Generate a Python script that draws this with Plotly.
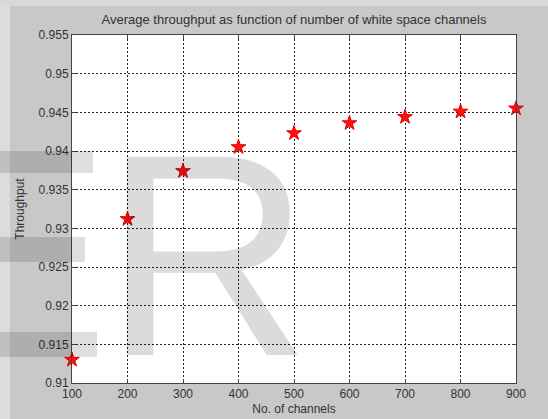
import plotly.graph_objects as go

channels = [100, 200, 300, 400, 500, 600, 700, 800, 900]
throughput = [0.9130, 0.9312, 0.9374, 0.9405, 0.9423, 0.9436, 0.9444, 0.9451, 0.9455]
y_ticks = [0.91, 0.915, 0.92, 0.925, 0.93, 0.935, 0.94, 0.945, 0.95, 0.955]
y_tick_labels = ["0.91", "0.915", "0.92", "0.925", "0.93", "0.935", "0.94", "0.945", "0.95", "0.955"]
x_ticks = [100, 200, 300, 400, 500, 600, 700, 800, 900]

W, H = 548, 419
L, R, T, B = 72, 32, 35, 36
PW, PH = W - L - R, H - T - B


def px(xp):
    return (xp - L) / PW


def py(yp):
    return (H - B - yp) / PH


fig = go.Figure()
fig.add_trace(go.Scatter(
    x=channels, y=throughput, mode="markers",
    marker=dict(symbol="star", size=11, color="#ff1010",
                line=dict(color="#e00000", width=1)),
    cliponaxis=False, showlegend=False,
))

shapes = []
# light strips at the figure edges
shapes.append(dict(type="rect", xref="paper", yref="paper", x0=px(0), x1=px(10), y0=py(H), y1=py(0),
                   fillcolor="#dcdcdc", line_width=0, layer="below"))
shapes.append(dict(type="rect", xref="paper", yref="paper", x0=px(0), x1=px(W), y0=py(6), y1=py(0),
                   fillcolor="#d8d8d8", line_width=0, layer="below"))
# watermark bars (parts of letters)
for (x0, x1, y0, y1) in [(0, 93, 151, 173), (0, 85, 237, 262), (0, 97, 332, 357)]:
    shapes.append(dict(type="rect", xref="paper", yref="paper",
                       x0=px(x0), x1=px(x1), y0=py(y1), y1=py(y0),
                       fillcolor="rgba(0,0,0,0.13)", line_width=0, layer="above"))

fig.update_layout(
    width=W, height=H,
    margin=dict(l=L, r=R, t=T, b=B, pad=0, autoexpand=False),
    paper_bgcolor="#c8c8c8",
    plot_bgcolor="white",
    title=dict(text="Average throughput as function of number of white space channels",
               x=0.5, xanchor="center", y=1 - 19 / H, yanchor="middle",
               xref="paper",
               font=dict(family="Liberation Sans, Arial", size=13, color="#333333")),
    font=dict(family="Liberation Sans, Arial", size=12, color="#333333"),
    shapes=shapes,
    annotations=[dict(text="R", x=px(117), y=py(255), height=200,
                      xref="paper", yref="paper", xanchor="left", yanchor="middle",
                      valign="middle", showarrow=False, xshift=-16,
                      font=dict(family="Liberation Sans, Arial", size=288, color="rgba(0,0,0,0.14)"))],
)

fig.update_xaxes(
    range=[100, 900], tickvals=x_ticks, ticks="inside", ticklen=4, tickcolor="#444444",
    showline=True, linecolor="#444444", linewidth=1, mirror="ticks",
    showgrid=True, gridcolor="#222222", griddash="2px,2px", gridwidth=1,
    zeroline=False, automargin=False,
    title=dict(text="No. of channels", standoff=4, font=dict(size=12, color="#333333")),
    tickfont=dict(size=12, color="#333333"),
)
fig.update_yaxes(
    range=[0.91, 0.955], tickvals=y_ticks, ticktext=y_tick_labels, ticks="inside", ticklen=4,
    tickcolor="#444444",
    showline=True, linecolor="#444444", linewidth=1, mirror="ticks",
    showgrid=True, gridcolor="#222222", griddash="2px,2px", gridwidth=1,
    zeroline=False, automargin=False,
    title=dict(text="Throughput", standoff=11, font=dict(size=12, color="#333333")),
    tickfont=dict(size=12, color="#333333"),
)

fig.write_html("out.html", config={"displayModeBar": False},
               post_script="document.body.style.margin='0';document.body.style.padding='0';"
                           "document.body.style.overflow='hidden';")
